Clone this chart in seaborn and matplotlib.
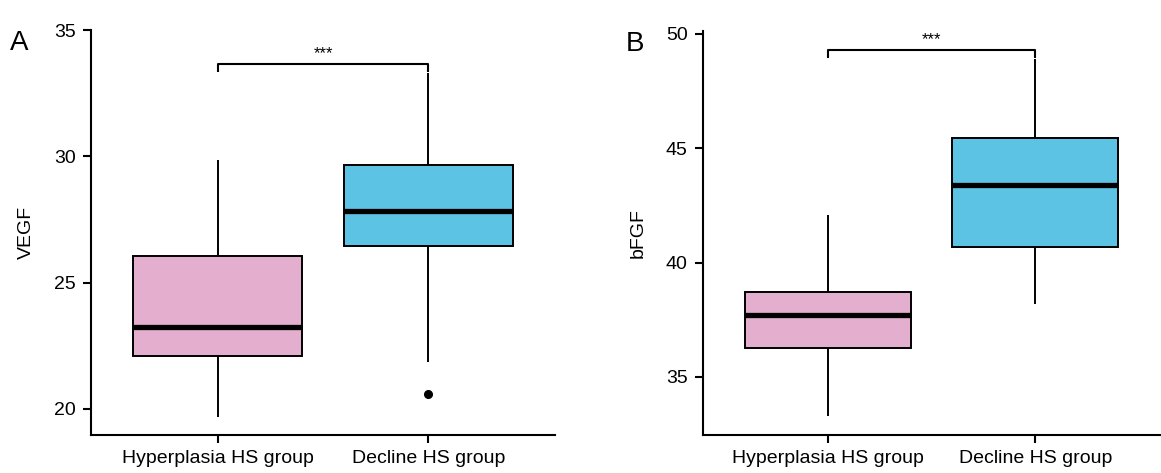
import matplotlib
matplotlib.use("Agg")
import matplotlib.pyplot as plt
import pandas as pd
import seaborn as sns

# Groups
groups = ["Hyperplasia HS group", "Decline HS group"]
colors = ["#E4AECE", "#5DC3E5"]

# Values (whisker ends, quartiles, median, outlier)
vegf_hyperplasia = [19.7, 22.1, 23.25, 26.05, 29.85]
vegf_decline = [20.6, 21.85, 26.45, 27.2, 27.85, 28.7, 29.65, 31.5, 33.3]
bfgf_hyperplasia = [33.3, 36.25, 37.7, 38.7, 42.1]
bfgf_decline = [38.2, 40.7, 43.4, 45.45, 48.9]

vegf_ticks = [20, 25, 30, 35]
bfgf_ticks = [35, 40, 45, 50]
significance = "***"


def make_df(a, b, name):
    return pd.DataFrame({
        "group": [groups[0]] * len(a) + [groups[1]] * len(b),
        name: a + b,
    })


sns.set_style("ticks")
plt.rcParams["font.family"] = ["Liberation Sans", "DejaVu Sans"]
plt.rcParams["text.color"] = "black"
plt.rcParams["axes.labelcolor"] = "black"

fig = plt.figure(figsize=(11.61, 4.73), dpi=100)
ax1 = fig.add_axes([91 / 1161, 38 / 473, 464 / 1161, 405 / 473])
ax2 = fig.add_axes([703 / 1161, 38 / 473, 457 / 1161, 404 / 473])


def draw_panel(ax, df, name, ylim, ticks, letter):
    sns.boxplot(data=df, x="group", y=name, hue="group", palette=colors,
                order=groups, hue_order=groups, legend=False, ax=ax,
                saturation=1, width=0.8, linewidth=1.4, linecolor="black",
                showcaps=False,
                medianprops=dict(linewidth=3.8, color="black"),
                flierprops=dict(marker="o", markerfacecolor="black",
                                markeredgecolor="black", markersize=5.5))
    ax.set_xlim(-0.6, 1.6)
    ax.set_ylim(*ylim)
    ax.set_yticks(ticks)
    ax.set_xlabel("")
    ax.set_ylabel(name, fontsize=14, labelpad=14)
    ax.tick_params(labelsize=14, width=1.5, length=6, pad=5, colors="black")
    for s in ["top", "right"]:
        ax.spines[s].set_visible(False)
    for s in ["left", "bottom"]:
        ax.spines[s].set_linewidth(1.5)
        ax.spines[s].set_color("black")

    # significance bracket above the two boxes
    span = ylim[1] - ylim[0]
    top = df[name].max()
    y = top + 0.022 * span
    drop = 0.02 * span
    ax.plot([0, 0, 1, 1], [y - drop, y, y, y - drop], color="black", lw=1.5,
            solid_capstyle="butt", clip_on=False)
    ax.text(0.5, y + 0.008 * span, significance, ha="center", va="bottom",
            fontsize=12)
    ax.text(-0.174 if letter == "A" else -0.17, 1.0, letter,
            transform=ax.transAxes, fontsize=20, ha="left", va="top")


draw_panel(ax1, make_df(vegf_hyperplasia, vegf_decline, "VEGF"), "VEGF",
           (18.97, 35.0), vegf_ticks, "A")
draw_panel(ax2, make_df(bfgf_hyperplasia, bfgf_decline, "bFGF"), "bFGF",
           (32.46, 50.13), bfgf_ticks, "B")

fig.savefig("out.png", dpi=100)
